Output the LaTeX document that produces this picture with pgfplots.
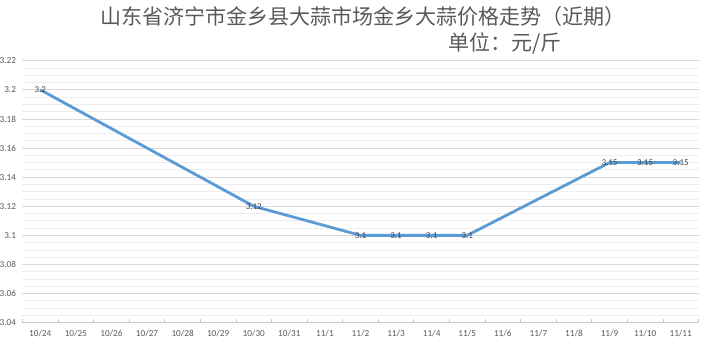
\documentclass[border=0pt]{standalone}
\usepackage{pgfplots}
\pgfplotsset{compat=1.18}
\usepackage{fontspec}
\setmainfont{Carlito}
\newfontfamily\cjk{Noto Sans CJK SC}
\definecolor{linec}{HTML}{5B9BD5}
\definecolor{txt}{HTML}{595959}
\definecolor{majg}{HTML}{D9D9D9}
\definecolor{ming}{HTML}{EDEDED}
\begin{document}
\begin{tikzpicture}
\begin{axis}[
  name=ax,
  scale only axis, width=676pt, height=262pt,
  xmin=-0.5, xmax=18.5, ymin=3.04, ymax=3.22,
  xtick={0,...,18},
  xticklabels={10/24,10/25,10/26,10/27,10/28,10/29,10/30,10/31,11/1,11/2,11/3,11/4,11/5,11/6,11/7,11/8,11/9,11/10,11/11},
  minor xtick={-0.5,0.5,...,18.5},
  ytick={3.04,3.06,...,3.2201},
  yticklabels={3.04,3.06,3.08,3.1,3.12,3.14,3.16,3.18,3.2,3.22},
  minor y tick num=3,
  ymajorgrids, yminorgrids,
  major grid style={majg, line width=0.8pt},
  minor grid style={ming, line width=0.8pt},
  axis x line*=bottom, axis y line*=left,
  x axis line style={majg!80!gray, line width=0.8pt, -},
  y axis line style={draw=none},
  major x tick style={draw=none},
  minor x tick style={majg!80!gray, line width=0.8pt},
  tick align=inside,
  minor tick length=3.5pt,
  y tick style={draw=none},
  tick label style={text=txt, font=\fontsize{9.2}{10}\selectfont},
  /pgf/number format/assume math mode=true,
  xticklabel style={yshift=-4pt},
  yticklabel style={xshift=-3pt},
  clip=false,
]
\addplot[linec, line width=2.8pt, line join=round,
  nodes near coords, point meta=explicit symbolic,
  every node near coord/.style={anchor=center, font=\fontsize{9}{10}\selectfont, text=black!72}]
  coordinates {(0,3.2)[3.2] (6,3.12)[3.12] (9,3.1)[3.1] (10,3.1)[3.1] (11,3.1)[3.1] (12,3.1)[3.1] (16,3.15)[3.15] (17,3.15)[3.15] (18,3.15)[3.15]};
\end{axis}
\begin{scope}[shift={(ax.south west)}, x=1pt, y=1pt]
\node[text=txt,font=\cjk\fontsize{21}{22}\selectfont,anchor=center] at (363-22.5,336-30.3) {山东省济宁市金乡县大蒜市场金乡大蒜价格走势（近期）};
\node[text=txt,font=\cjk\fontsize{21}{22}\selectfont,anchor=center] at (505-22.5,310-30.3) {单位：元/斤};
\pgfresetboundingbox
\useasboundingbox (-22.5,-30.3) rectangle (697.5,322.7);
\end{scope}
\end{tikzpicture}
\end{document}
